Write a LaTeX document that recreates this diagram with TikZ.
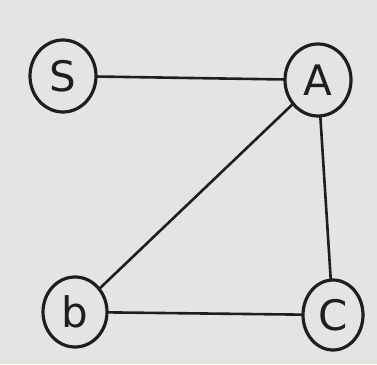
\documentclass[tikz,border=0pt]{standalone}
\usepackage{fontspec}
\setsansfont{DejaVu Sans}
\definecolor{Ink}{HTML}{1E1E1E}
\definecolor{Paper}{HTML}{E4E4E2}
\tikzset{
  vertex/.style={draw=Ink,line width=3.2pt,ellipse,minimum width=66pt,minimum height=72pt,inner sep=0pt,font=\sffamily\fontsize{42}{42}\selectfont,text=Ink},
  edge/.style={draw=Ink,line width=2.6pt,line cap=round}
}
\usetikzlibrary{shapes.geometric}
\begin{document}
\begin{tikzpicture}[x=1pt,y=1pt]
\path[use as bounding box,fill=Paper] (0,0) rectangle (377,364);
\node[vertex] (S) at (63,288) {S};
\node[vertex] (A) at (318,284) {A};
\node[vertex,minimum width=64pt,minimum height=70pt] (b) at (75,52) {b};
\node[vertex,minimum width=60pt,minimum height=70pt] (C) at (333,49) {C};
\draw[edge] (S) -- (A);
\draw[edge] (A) -- (b);
\draw[edge] (A) -- (C);
\draw[edge] (b) -- (C);
\end{tikzpicture}
\end{document}
